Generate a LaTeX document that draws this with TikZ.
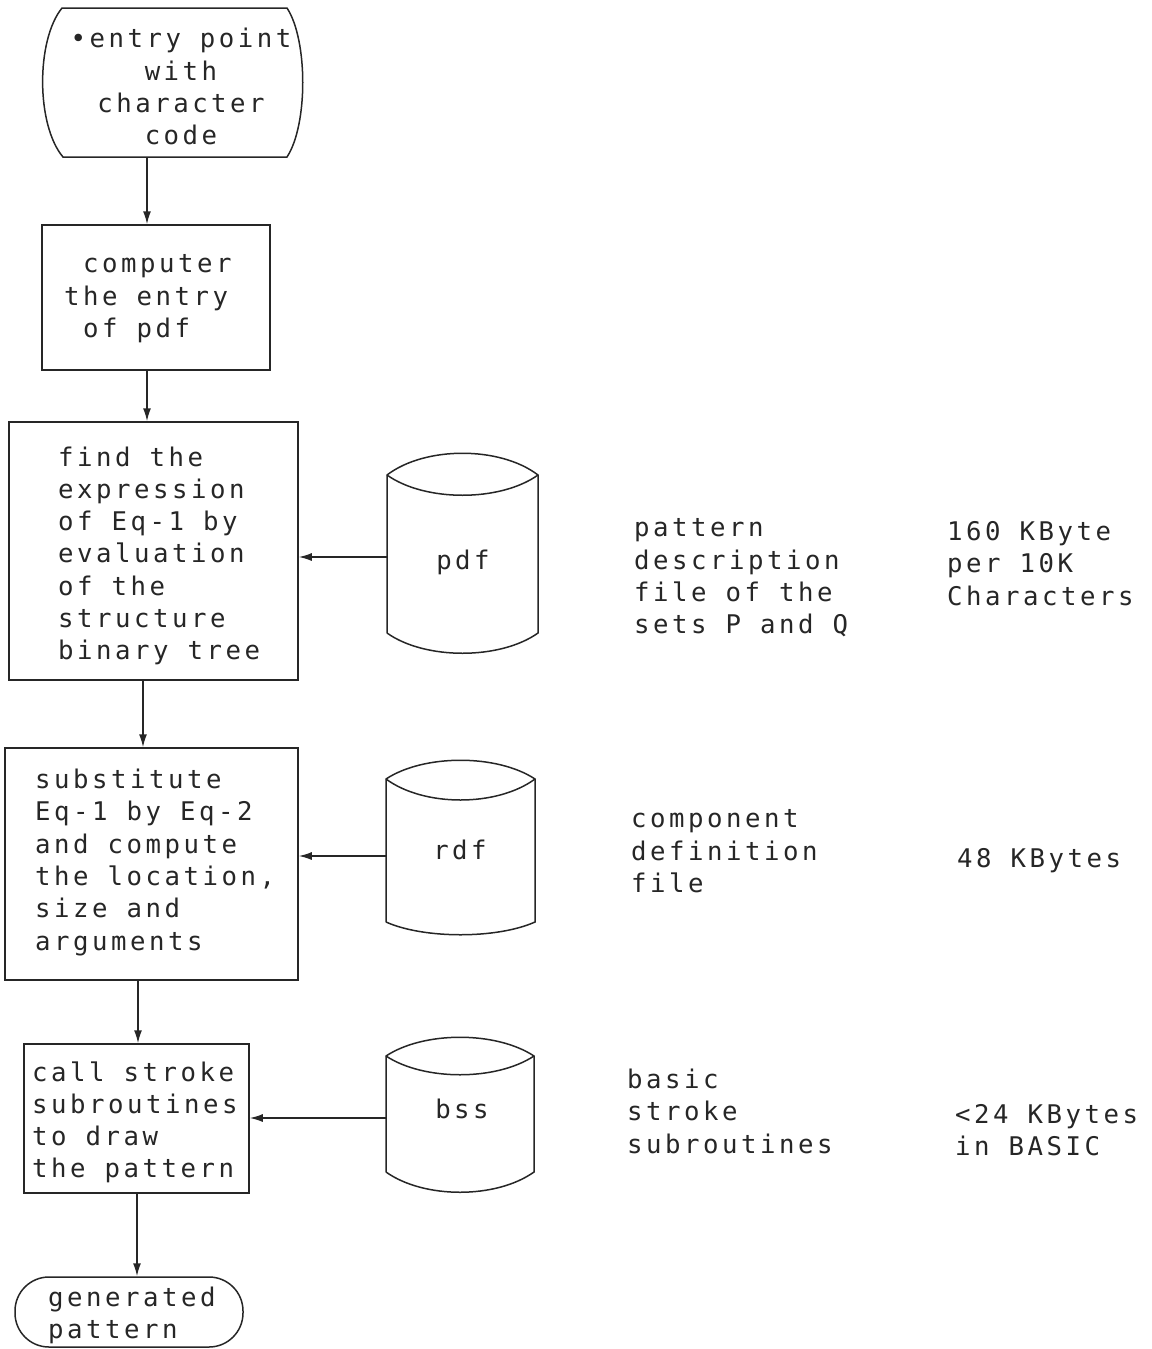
\documentclass[tikz,border=0pt]{standalone}
\usepackage{fontspec}
\newfontfamily\plotfont[LetterSpace=13.7]{DejaVu Sans Mono}
\newcommand\pf{\plotfont\fontsize{25.7pt}{32.3pt}\selectfont}
\usetikzlibrary{arrows.meta}
\tikzset{
  ln/.style={line width=1.5pt, draw=black!85},
  proc/.style={ln, rectangle, inner sep=0pt},
  txt/.style={font=\pf, text=black!85, inner sep=0pt, align=left, anchor=west,
    yshift=-5pt, execute at begin node=\strut, execute at end node=\strut},
  ctxt/.style={txt, align=center, anchor=center},
  arr/.style={ln, -{Latex[length=13pt,width=8pt]}},
}
\begin{document}
\begin{tikzpicture}[x=1pt,y=-1pt]
\useasboundingbox (0,0) rectangle (1151,1349);

% entry point shape
\draw[ln] (62,8) -- (287,8) .. controls (308,40) and (308,125) .. (287,157)
  -- (63,157) .. controls (36,125) and (36,40) .. (62,8) -- cycle;
\node[ctxt] (entry) at (181,86.5) {•entry point\\with\\character\\code};
\coordinate (e1) at (147,157);

% process boxes
\node[proc, minimum width=228, minimum height=145] (b2) at (156,297.5) {};
\node[txt] (t2) at (64,296) {~computer\\the entry\\~of pdf};

\node[proc, minimum width=289, minimum height=258] (b3) at (153.5,551) {};
\node[txt] (t3) at (58,553) {find the\\expression\\of Eq-1 by\\evaluation\\of the\\structure\\binary tree};

\node[proc, minimum width=293, minimum height=232] (b4) at (151.5,864) {};
\node[txt] (t4) at (35,859.5) {substitute\\Eq-1 by Eq-2\\and compute\\the location,\\size and\\arguments};

\node[proc, minimum width=225, minimum height=149] (b5) at (136.5,1118.5) {};
\node[txt] (t5) at (32,1119.5) {call stroke\\subroutines\\to draw\\the pattern};

\node[proc, rounded corners=34pt, minimum width=228, minimum height=70] (term) at (129,1312) {};
\node[txt] (t6) at (48,1312.5) {generated\\pattern};

% vertical connectors
\coordinate (c2) at (147,0);
\coordinate (c3) at (143,0);
\coordinate (c4) at (138,0);
\coordinate (c5) at (137,0);
\draw[arr] (e1) -- (e1 |- b2.north);
\draw[arr] (b2.south -| c2) -- (b3.north -| c2);
\draw[arr] (b3.south -| c3) -- (b4.north -| c3);
\draw[arr] (b4.south -| c4) -- (b5.north -| c4);
\draw[arr] (b5.south -| c5) -- (term.north -| c5);

% cylinders
\draw[ln] (387,633) -- (387,475) .. controls (425,446) and (500,446) .. (538,475)
  -- (538,633) .. controls (500,660) and (425,660) .. (387,633);
\draw[ln] (387,475) .. controls (425,502) and (500,502) .. (538,475);
\node[ctxt] (pdf) at (463,558) {pdf};
\coordinate (pdfL) at (387,557);

\draw[ln] (386,922) -- (386,779) .. controls (424,754) and (497,754) .. (535,779)
  -- (535,922) .. controls (497,939) and (424,939) .. (386,922);
\draw[ln] (386,779) .. controls (424,807) and (497,807) .. (535,779);
\node[ctxt] (rdf) at (460,848) {rdf};
\coordinate (rdfL) at (386,856);

\draw[ln] (386,1172) -- (386,1056) .. controls (424,1031) and (496,1031) .. (534,1056)
  -- (534,1172) .. controls (496,1199) and (424,1199) .. (386,1172);
\draw[ln] (386,1056) .. controls (424,1081) and (496,1081) .. (534,1056);
\node[ctxt] (bss) at (462,1107) {bss};
\coordinate (bssL) at (386,1118);

% horizontal connectors
\draw[arr] (pdfL) -- (pdfL -| b3.east);
\draw[arr] (rdfL) -- (rdfL -| b4.east);
\draw[arr] (bssL) -- (bssL -| b5.east);

% descriptions
\node[txt] (d1) at (634,576) {pattern\\description\\file of the\\sets P and Q};
\node[txt] (s1) at (947,563) {160 KByte\\per 10K\\Characters};
\node[txt] (d2) at (631,851) {component\\definition\\file};
\node[txt] (s2) at (957,856) {48 KBytes};
\node[txt] (d3) at (627,1111) {basic\\stroke\\subroutines};
\node[txt] (s3) at (955,1130) {<24 KBytes\\in BASIC};
\end{tikzpicture}
\end{document}
